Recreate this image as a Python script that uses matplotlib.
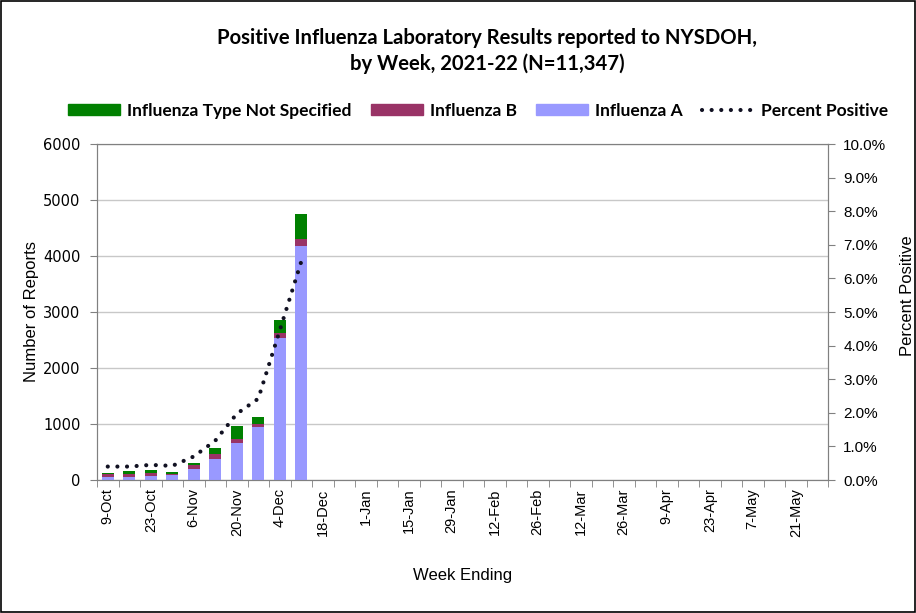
import matplotlib
matplotlib.use("Agg")
import matplotlib.pyplot as plt
from matplotlib.patches import Patch
from matplotlib.lines import Line2D
from matplotlib.ticker import FuncFormatter
import numpy as np

# week ending labels, 2021-22 season
weeks = ["9-Oct", "16-Oct", "23-Oct", "30-Oct", "6-Nov", "13-Nov", "20-Nov", "27-Nov",
         "4-Dec", "11-Dec", "18-Dec", "25-Dec", "1-Jan", "8-Jan", "15-Jan", "22-Jan",
         "29-Jan", "5-Feb", "12-Feb", "19-Feb", "26-Feb", "5-Mar", "12-Mar", "19-Mar",
         "26-Mar", "2-Apr", "9-Apr", "16-Apr", "23-Apr", "30-Apr", "7-May", "14-May",
         "21-May", "28-May"]

# reported weeks so far
flu_a = [60, 55, 70, 85, 190, 370, 665, 945, 2540, 4180]
flu_b = [40, 60, 60, 30, 80, 90, 60, 60, 90, 120]
flu_ns = [30, 45, 50, 35, 40, 105, 240, 120, 220, 455]
pct_pos = [0.40, 0.40, 0.45, 0.42, 0.70, 1.17, 1.97, 2.42, 4.45, 6.5]

c_ns = "#008000"
c_b = "#993366"
c_a = "#9999FF"
dots = (0, (0.01, 2.3))

fig = plt.figure(figsize=(9.16, 6.13), dpi=100)
ax = fig.add_axes([97/916, 1-480/613, (828-97)/916, (480-144)/613])

n = len(flu_a)
x = np.arange(n)
a = np.array(flu_a)
b = np.array(flu_b)
ns = np.array(flu_ns)
w = 0.55
ax.bar(x, a, w, color=c_a, zorder=3)
ax.bar(x, b, w, bottom=a, color=c_b, zorder=3)
ax.bar(x, ns, w, bottom=a + b, color=c_ns, zorder=3)

ax.set_xlim(-0.5, len(weeks) - 0.5)
ax.set_ylim(0, 6000)
ax.set_yticks(range(0, 6001, 1000))
ax.yaxis.grid(True, color="#c8c8c8", linewidth=1)
ax.set_axisbelow(True)

ax.set_xticks(np.arange(0, len(weeks), 2))
ax.set_xticklabels(weeks[::2], rotation=90, fontsize=10.5, family="Liberation Sans")
ax.set_xticks(np.arange(-0.5, len(weeks), 1), minor=True)
ax.tick_params(axis="x", which="major", length=0, pad=6)
ax.tick_params(axis="x", which="minor", length=5, color="#808080")
ax.tick_params(axis="y", length=5, color="#808080", labelsize=10.5, pad=7)
for lab in ax.get_yticklabels():
    lab.set_family("DejaVu Sans")

for s in ["left", "bottom", "right", "top"]:
    ax.spines[s].set_color("#808080")

ax.set_ylabel("Number of Reports", fontsize=12, family="Liberation Sans", labelpad=3)
ax.set_xlabel("Week Ending", fontsize=12, family="Liberation Sans", labelpad=22)

ax2 = ax.twinx()
ax2.plot(x, pct_pos, color="#111122", linestyle=dots, linewidth=3,
         dash_capstyle="round", zorder=4)
ax2.set_ylim(0, 10)
ax2.set_yticks(np.arange(0, 10.01, 1))
ax2.yaxis.set_major_formatter(FuncFormatter(lambda v, p: f"{v:.1f}%"))
ax2.tick_params(axis="y", length=5, color="#808080", labelsize=11, pad=6)
for lab in ax2.get_yticklabels():
    lab.set_family("Liberation Sans")
for s in ["left", "bottom", "right", "top"]:
    ax2.spines[s].set_color("#808080")
ax2.set_ylabel("Percent Positive", fontsize=12, family="Liberation Sans")
ax2.yaxis.set_label_coords(1.099, 0.548)

fig.text(487/916, 1-38/613, "Positive Influenza Laboratory Results reported to NYSDOH,",
         ha="center", va="center", fontsize=14.6, fontweight="bold", family="Lato")
fig.text(487/916, 1-64/613, "by Week, 2021-22 (N=11,347)",
         ha="center", va="center", fontsize=14.6, fontweight="bold", family="Lato")

handles = [Patch(color=c_ns), Patch(color=c_b), Patch(color=c_a),
           Line2D([], [], color="#111122", linestyle=dots, linewidth=3,
                  dash_capstyle="round")]
labels = ["Influenza Type Not Specified", "Influenza B", "Influenza A", "Percent Positive"]
fig.legend(handles, labels, loc="center", bbox_to_anchor=(478/916, 1-111/613), ncol=4,
           frameon=False, handlelength=3.0, handleheight=0.6, columnspacing=1.1,
           handletextpad=0.4, prop={"family": "Lato", "weight": "bold", "size": 12.5})

fig.patches.append(plt.Rectangle((0.001, 0.001), 0.998, 0.998, transform=fig.transFigure,
                                 fill=False, edgecolor="black", linewidth=1.2))

fig.savefig("out.png", dpi=100)
